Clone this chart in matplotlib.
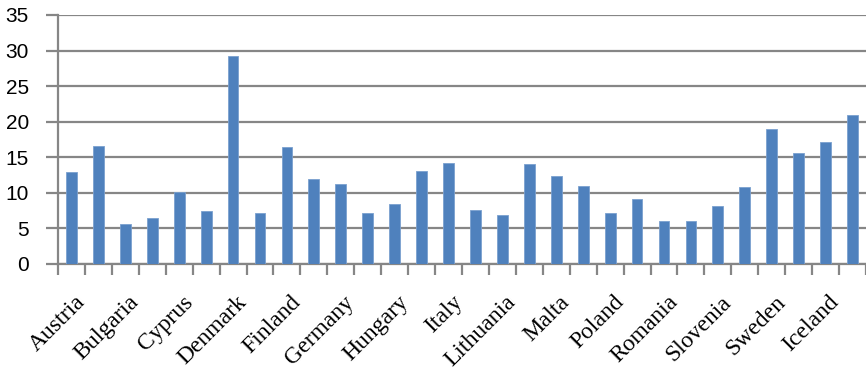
import matplotlib
matplotlib.use('Agg')
import matplotlib.pyplot as plt
import matplotlib.transforms as mtransforms
import numpy as np

countries = ['Austria', 'Belgium', 'Bulgaria', 'Croatia', 'Cyprus', 'Czech Republic',
             'Denmark', 'Estonia', 'Finland', 'France', 'Germany', 'Greece',
             'Hungary', 'Ireland', 'Italy', 'Latvia', 'Lithuania', 'Luxembourg',
             'Malta', 'Netherlands', 'Poland', 'Portugal', 'Romania', 'Slovakia',
             'Slovenia', 'Spain', 'Sweden', 'United Kingdom', 'Iceland', 'Norway']
values = [12.9, 16.6, 5.6, 6.5, 10.1, 7.5,
          29.2, 7.1, 16.5, 11.9, 11.3, 7.2,
          8.5, 13.0, 14.2, 7.6, 6.9, 14.1,
          12.3, 10.9, 7.1, 9.1, 6.0, 6.1,
          8.1, 10.8, 19.0, 15.6, 17.2, 20.9]
yticks = [0, 5, 10, 15, 20, 25, 30, 35]

GRID = '#868686'
BAR = '#4F81BD'

fig = plt.figure(figsize=(8.66, 3.69), dpi=100)
ax = fig.add_axes([0.067, 0.2846, 0.933, 0.6748])
x = np.arange(len(countries))
ax.bar(x, values, width=0.4, color=BAR, edgecolor='#7aa0cf', linewidth=0.6, zorder=3)

ax.set_xlim(-0.5, len(countries) - 0.5)
ax.set_ylim(0, 35)
ax.set_yticks(yticks)
ax.set_yticklabels([str(v) for v in yticks], fontsize=15, family='Liberation Sans')
ax.grid(True, axis='y', color=GRID, linewidth=1.6, zorder=0)
ax.tick_params(axis='y', length=9, width=1.6, color=GRID, pad=12)

# category labels on every other bar, ticks between categories
ax.set_xticks(x[::2])
ax.set_xticklabels(countries[::2], rotation=45, ha='right', rotation_mode='anchor',
                   fontsize=17, family='Liberation Serif')
ax.tick_params(axis='x', which='major', length=0, pad=20)
ax.set_xticks(np.arange(-0.5, len(countries)), minor=True)
ax.tick_params(axis='x', which='minor', length=8, width=1.6, color=GRID)
shift = mtransforms.ScaledTranslation(0.03, 0, fig.dpi_scale_trans)
for lbl in ax.get_xticklabels():
    lbl.set_transform(lbl.get_transform() + shift)

for side in ['top', 'right']:
    ax.spines[side].set_visible(False)
ax.spines['left'].set_color(GRID)
ax.spines['left'].set_linewidth(1.6)
ax.spines['bottom'].set_color(GRID)
ax.spines['bottom'].set_linewidth(1.6)

fig.savefig('out.png', dpi=100)
